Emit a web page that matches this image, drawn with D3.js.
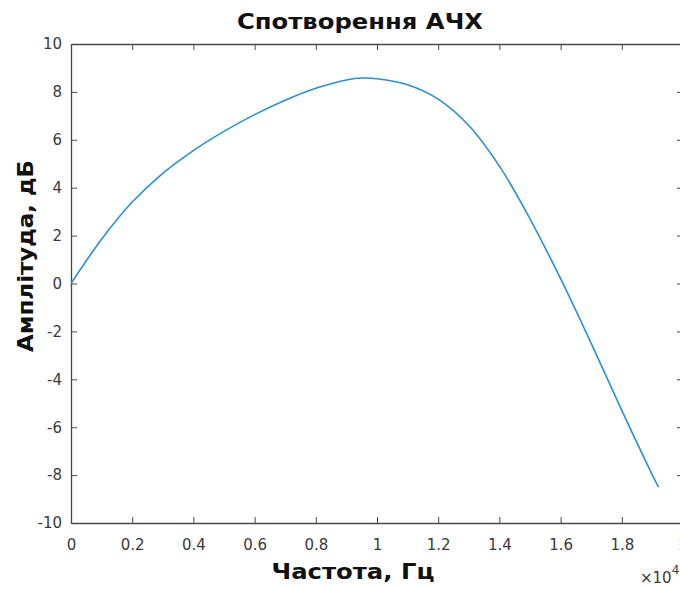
<!DOCTYPE html>
<html>
<head>
<meta charset="utf-8">
<script src="https://cdn.jsdelivr.net/npm/d3@7"></script>
<style>
  html, body { margin: 0; padding: 0; background: #fff; overflow: hidden; }
  svg { display: block; }
</style>
</head>
<body>
<svg id="chart" width="680" height="589"></svg>
<script>
// Frequency response distortion curve (frequency in units of 10^4 Hz)
const freq = [0, 0.1, 0.2, 0.3, 0.4, 0.5, 0.6, 0.7, 0.8, 0.9, 0.95, 1.0, 1.1, 1.2, 1.3, 1.4, 1.5, 1.6, 1.7, 1.8, 1.9, 1.92];
const ampl = [0, 1.85, 3.4, 4.6, 5.55, 6.35, 7.05, 7.65, 8.15, 8.5, 8.58, 8.55, 8.3, 7.7, 6.6, 4.9, 2.7, 0.2, -2.5, -5.3, -8.0, -8.5];

const xTicks = [0, 0.2, 0.4, 0.6, 0.8, 1, 1.2, 1.4, 1.6, 1.8, 2];
const yTicks = [-10, -8, -6, -4, -2, 0, 2, 4, 6, 8, 10];

const titleText = "Спотворення АЧХ";
const xLabel = "Частота, Гц";
const yLabel = "Амплітуда, дБ";

const svg = d3.select("#chart");
const plotLeft = 71, plotRight = 683, plotTop = 44, plotBottom = 523;

const x = d3.scaleLinear().domain([0, 2]).range([plotLeft, plotRight]);
const y = d3.scaleLinear().domain([-10, 10]).range([plotBottom, plotTop]);

const axisColor = "#474747";
const tickFont = "DejaVu Sans, sans-serif";
const labelFont = "DejaVu Sans, sans-serif";
const fmt = d => String(+d.toFixed(1)).replace("\u2212", "-");

// Bottom axis: ticks point inward, labels below
const gx = svg.append("g").attr("transform", `translate(0,${plotBottom})`)
  .call(d3.axisBottom(x).tickValues(xTicks).tickSizeInner(-6).tickSizeOuter(0).tickPadding(16).tickFormat(fmt));
// Left axis
const gy = svg.append("g").attr("transform", `translate(${plotLeft},0)`)
  .call(d3.axisLeft(y).tickValues(yTicks).tickSizeInner(-6).tickSizeOuter(0).tickPadding(9).tickFormat(fmt));
// Top and right axes (box), ticks only
const gt = svg.append("g").attr("transform", `translate(0,${plotTop})`)
  .call(d3.axisTop(x).tickValues(xTicks).tickSizeInner(-6).tickSizeOuter(0).tickFormat(""));
const gr = svg.append("g").attr("transform", `translate(${plotRight},0)`)
  .call(d3.axisRight(y).tickValues(yTicks).tickSizeInner(-6).tickSizeOuter(0).tickFormat(""));

[gx, gy, gt, gr].forEach(g => {
  g.selectAll("path.domain").attr("stroke", axisColor).attr("stroke-width", 1.3);
  g.selectAll(".tick line").attr("stroke", axisColor).attr("stroke-width", 1);
  g.selectAll(".tick text").attr("fill", "#3a3a3a").style("font-family", tickFont).style("font-size", "15px");
});

// Curve
const line = d3.line()
  .x((d, i) => x(freq[i]))
  .y(d => y(d))
  .curve(d3.curveCatmullRom.alpha(0.5));

svg.append("path")
  .datum(ampl)
  .attr("fill", "none")
  .attr("stroke", "#2b8fd5")
  .attr("stroke-width", 1.6)
  .attr("d", line);

// Title and axis labels
svg.append("text")
  .attr("x", 360).attr("y", 29)
  .attr("text-anchor", "middle")
  .attr("textLength", 246).attr("lengthAdjust", "spacingAndGlyphs")
  .style("font-family", labelFont)
  .style("font-weight", "bold").style("font-size", "21px")
  .attr("fill", "#111")
  .text(titleText);

svg.append("text")
  .attr("x", 353).attr("y", 579)
  .attr("text-anchor", "middle")
  .attr("textLength", 163).attr("lengthAdjust", "spacingAndGlyphs")
  .style("font-family", labelFont)
  .style("font-weight", "bold").style("font-size", "22px")
  .attr("fill", "#111")
  .text(xLabel);

svg.append("text")
  .attr("transform", "translate(33,256) rotate(-90)")
  .attr("text-anchor", "middle")
  .attr("textLength", 192).attr("lengthAdjust", "spacingAndGlyphs")
  .style("font-family", labelFont)
  .style("font-weight", "bold").style("font-size", "22px")
  .attr("fill", "#111")
  .text(yLabel);

// Exponent marker for the frequency axis
const expo = svg.append("text")
  .attr("x", 640).attr("y", 583)
  .style("font-family", tickFont).style("font-size", "15px")
  .attr("fill", "#3a3a3a");
expo.append("tspan").text("×10");
expo.append("tspan").attr("dy", -9).style("font-size", "12px").text("4");
</script>
</body>
</html>
